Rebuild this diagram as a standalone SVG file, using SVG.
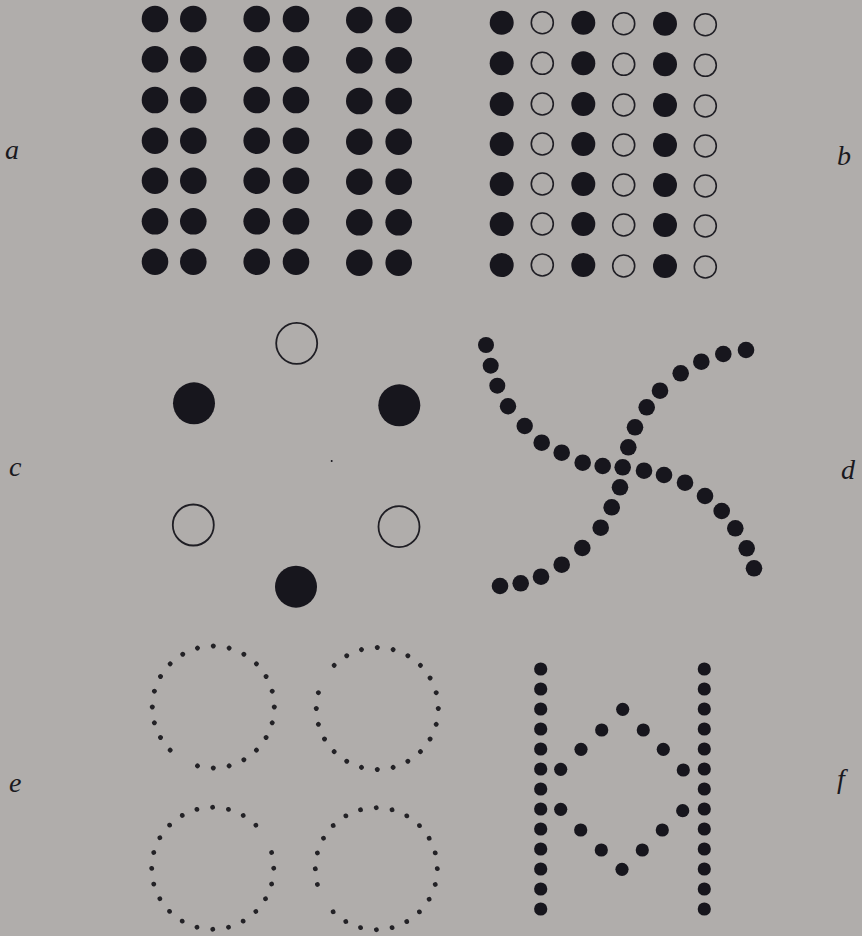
<svg xmlns="http://www.w3.org/2000/svg" width="862" height="936" viewBox="0 0 862 936">
<style>
.bg{fill:#b0adab}
.f{fill:#17161d}
.o{fill:none;stroke:#1f1e24;stroke-width:1.6}
.ring{fill:none;stroke:#232226;stroke-width:4.8;stroke-linecap:round;stroke-dasharray:0 1 0 1 0 1 0 1 0 1 0 1 0 1 0 1 0 1 0 1 0 1 0 1 0 1 0 1 0 1 0 1 0 1 0 1 0 1 0 1 0 1 0 1 0 2}
.lbl{font-family:"Liberation Serif","Times New Roman",serif;font-style:italic;font-size:28px;fill:#1a191e}
</style>
<rect class="bg" x="0" y="0" width="862" height="936"/>

<g id="panel-a">
<g id="a-col1" class="f">
<circle cx="155" cy="19" r="13.3"/><circle cx="155" cy="59.3" r="13.3"/><circle cx="155" cy="100" r="13.3"/><circle cx="155" cy="140.7" r="13.3"/><circle cx="155" cy="180.7" r="13.3"/><circle cx="155" cy="221.3" r="13.3"/><circle cx="155" cy="261.7" r="13.3"/>
</g>
<g id="a-col2" class="f">
<circle cx="193.3" cy="19" r="13.3"/><circle cx="193.3" cy="59.3" r="13.3"/><circle cx="193.3" cy="100" r="13.3"/><circle cx="193.3" cy="140.7" r="13.3"/><circle cx="193.3" cy="180.7" r="13.3"/><circle cx="193.3" cy="221.3" r="13.3"/><circle cx="193.3" cy="261.7" r="13.3"/>
</g>
<g id="a-col3" class="f">
<circle cx="256.7" cy="19" r="13.3"/><circle cx="256.7" cy="59.3" r="13.3"/><circle cx="256.7" cy="100" r="13.3"/><circle cx="256.7" cy="140.7" r="13.3"/><circle cx="256.7" cy="180.7" r="13.3"/><circle cx="256.7" cy="221.3" r="13.3"/><circle cx="256.7" cy="261.7" r="13.3"/>
</g>
<g id="a-col4" class="f">
<circle cx="296" cy="19" r="13.3"/><circle cx="296" cy="59.3" r="13.3"/><circle cx="296" cy="100" r="13.3"/><circle cx="296" cy="140.7" r="13.3"/><circle cx="296" cy="180.7" r="13.3"/><circle cx="296" cy="221.3" r="13.3"/><circle cx="296" cy="261.7" r="13.3"/>
</g>
<g id="a-col5" class="f">
<circle cx="359.3" cy="20" r="13.3"/><circle cx="359.3" cy="60.3" r="13.3"/><circle cx="359.3" cy="101" r="13.3"/><circle cx="359.3" cy="141.7" r="13.3"/><circle cx="359.3" cy="181.7" r="13.3"/><circle cx="359.3" cy="222.3" r="13.3"/><circle cx="359.3" cy="262.7" r="13.3"/>
</g>
<g id="a-col6" class="f">
<circle cx="398.7" cy="20" r="13.3"/><circle cx="398.7" cy="60.3" r="13.3"/><circle cx="398.7" cy="101" r="13.3"/><circle cx="398.7" cy="141.7" r="13.3"/><circle cx="398.7" cy="181.7" r="13.3"/><circle cx="398.7" cy="222.3" r="13.3"/><circle cx="398.7" cy="262.7" r="13.3"/>
</g>
</g>

<g id="panel-b">
<g id="b-col1" class="f">
<circle cx="501.7" cy="22.7" r="12"/><circle cx="501.7" cy="63.3" r="12"/><circle cx="501.7" cy="104" r="12"/><circle cx="501.7" cy="144" r="12"/><circle cx="501.7" cy="184" r="12"/><circle cx="501.7" cy="224" r="12"/><circle cx="501.7" cy="265" r="12"/>
</g>
<g id="b-col2" class="o">
<circle cx="542.3" cy="22.7" r="11"/><circle cx="542.3" cy="63.3" r="11"/><circle cx="542.3" cy="104" r="11"/><circle cx="542.3" cy="144" r="11"/><circle cx="542.3" cy="184" r="11"/><circle cx="542.3" cy="224" r="11"/><circle cx="542.3" cy="265" r="11"/>
</g>
<g id="b-col3" class="f">
<circle cx="583.3" cy="22.7" r="12"/><circle cx="583.3" cy="63.3" r="12"/><circle cx="583.3" cy="104" r="12"/><circle cx="583.3" cy="144" r="12"/><circle cx="583.3" cy="184" r="12"/><circle cx="583.3" cy="224" r="12"/><circle cx="583.3" cy="265" r="12"/>
</g>
<g id="b-col4" class="o">
<circle cx="623.7" cy="23.7" r="11"/><circle cx="623.7" cy="64.3" r="11"/><circle cx="623.7" cy="105" r="11"/><circle cx="623.7" cy="145" r="11"/><circle cx="623.7" cy="185" r="11"/><circle cx="623.7" cy="225" r="11"/><circle cx="623.7" cy="266" r="11"/>
</g>
<g id="b-col5" class="f">
<circle cx="665" cy="23.7" r="12"/><circle cx="665" cy="64.3" r="12"/><circle cx="665" cy="105" r="12"/><circle cx="665" cy="145" r="12"/><circle cx="665" cy="185" r="12"/><circle cx="665" cy="225" r="12"/><circle cx="665" cy="266" r="12"/>
</g>
<g id="b-col6" class="o">
<circle cx="705.3" cy="24.7" r="11"/><circle cx="705.3" cy="65.3" r="11"/><circle cx="705.3" cy="106" r="11"/><circle cx="705.3" cy="146" r="11"/><circle cx="705.3" cy="186" r="11"/><circle cx="705.3" cy="226" r="11"/><circle cx="705.3" cy="267" r="11"/>
</g>
</g>

<g id="panel-c">
<circle class="o" cx="296.7" cy="343.3" r="20.5" style="stroke-width:1.8"/>
<circle class="f" cx="194" cy="403.3" r="21"/>
<circle class="f" cx="399.3" cy="405.3" r="21"/>
<circle class="o" cx="193.3" cy="525" r="20.5" style="stroke-width:1.8"/>
<circle class="o" cx="399" cy="526.7" r="20.5" style="stroke-width:1.8"/>
<circle class="f" cx="296" cy="586.7" r="21"/>
<circle class="f" cx="331.7" cy="461" r="1"/>
</g>

<g id="panel-d">
<g id="d-curve1" class="f">
<circle cx="486" cy="345" r="8"/><circle cx="490.7" cy="365.7" r="8"/><circle cx="497.3" cy="385.7" r="8"/><circle cx="508" cy="406.3" r="8.2"/><circle cx="524.7" cy="426" r="8.2"/><circle cx="541.7" cy="442.7" r="8.3"/><circle cx="561.7" cy="452.7" r="8.3"/><circle cx="582.7" cy="462.7" r="8.3"/><circle cx="602.7" cy="466" r="8.3"/><circle cx="622.7" cy="467.3" r="8.3"/><circle cx="644" cy="470.7" r="8.3"/><circle cx="664" cy="475" r="8.3"/><circle cx="685" cy="482.7" r="8.3"/><circle cx="705" cy="496" r="8.3"/><circle cx="721.7" cy="511" r="8.3"/><circle cx="735.3" cy="528.3" r="8.3"/><circle cx="746.7" cy="548.3" r="8.3"/><circle cx="754" cy="568.3" r="8.3"/>
</g>
<g id="d-curve2" class="f">
<circle cx="500" cy="586" r="8.3"/><circle cx="520.7" cy="583.3" r="8.3"/><circle cx="541" cy="576.7" r="8.3"/><circle cx="561.7" cy="564.7" r="8.3"/><circle cx="582.3" cy="548" r="8.3"/><circle cx="600.7" cy="527.7" r="8.3"/><circle cx="611.7" cy="507.3" r="8.3"/><circle cx="620" cy="487.3" r="8.3"/><circle cx="628.3" cy="447.3" r="8.3"/><circle cx="635" cy="427.3" r="8.3"/><circle cx="646.7" cy="407.3" r="8.3"/><circle cx="660" cy="390.7" r="8.3"/><circle cx="680.7" cy="373.3" r="8.3"/><circle cx="701.3" cy="361.7" r="8.3"/><circle cx="723.3" cy="354" r="8.3"/><circle cx="746" cy="350" r="8.3"/>
</g>
</g>

<g id="panel-e">
<g id="e-ring1" transform="translate(213.3 707) rotate(135)"><circle class="ring" cx="0" cy="0" r="61" pathLength="24"/></g>
<g id="e-ring2" transform="translate(377.3 708.5) rotate(225)"><circle class="ring" cx="0" cy="0" r="61" pathLength="24"/></g>
<g id="e-ring3" transform="translate(212.7 868.3) rotate(345)"><circle class="ring" cx="0" cy="0" r="61" pathLength="24"/></g>
<g id="e-ring4" transform="translate(376.3 868.7) rotate(165)"><circle class="ring" cx="0" cy="0" r="61" pathLength="24"/></g>
</g>

<g id="panel-f">
<g id="f-left" class="f">
<circle cx="540.7" cy="669" r="6.6"/><circle cx="540.7" cy="689" r="6.6"/><circle cx="540.7" cy="709" r="6.6"/><circle cx="540.7" cy="729" r="6.6"/><circle cx="540.7" cy="749" r="6.6"/><circle cx="540.7" cy="769" r="6.6"/><circle cx="540.7" cy="789" r="6.6"/><circle cx="540.7" cy="809" r="6.6"/><circle cx="540.7" cy="829" r="6.6"/><circle cx="540.7" cy="849" r="6.6"/><circle cx="540.7" cy="869" r="6.6"/><circle cx="540.7" cy="889" r="6.6"/><circle cx="540.7" cy="909" r="6.6"/>
</g>
<g id="f-right" class="f">
<circle cx="704.3" cy="669" r="6.6"/><circle cx="704.3" cy="689" r="6.6"/><circle cx="704.3" cy="709" r="6.6"/><circle cx="704.3" cy="729" r="6.6"/><circle cx="704.3" cy="749" r="6.6"/><circle cx="704.3" cy="769" r="6.6"/><circle cx="704.3" cy="789" r="6.6"/><circle cx="704.3" cy="809" r="6.6"/><circle cx="704.3" cy="829" r="6.6"/><circle cx="704.3" cy="849" r="6.6"/><circle cx="704.3" cy="869" r="6.6"/><circle cx="704.3" cy="889" r="6.6"/><circle cx="704.3" cy="909" r="6.6"/>
</g>
<g id="f-diamond" class="f">
<circle cx="622.7" cy="709.3" r="6.6"/><circle cx="601.7" cy="730" r="6.6"/><circle cx="643.3" cy="730" r="6.6"/><circle cx="581" cy="749.3" r="6.6"/><circle cx="663.3" cy="749.3" r="6.6"/><circle cx="560.7" cy="769.3" r="6.6"/><circle cx="683.3" cy="770" r="6.6"/><circle cx="560.7" cy="809.3" r="6.6"/><circle cx="682.7" cy="810.7" r="6.6"/><circle cx="580.7" cy="830" r="6.6"/><circle cx="662.3" cy="830" r="6.6"/><circle cx="601.3" cy="850" r="6.6"/><circle cx="642.3" cy="850" r="6.6"/><circle cx="622" cy="869.3" r="6.6"/>
</g>
</g>

<g id="labels">
<text class="lbl" x="5" y="159">a</text>
<text class="lbl" x="837" y="165">b</text>
<text class="lbl" x="9" y="476">c</text>
<text class="lbl" x="841" y="479">d</text>
<text class="lbl" x="9" y="792">e</text>
<text class="lbl" x="837" y="788">f</text>
</g>
</svg>
